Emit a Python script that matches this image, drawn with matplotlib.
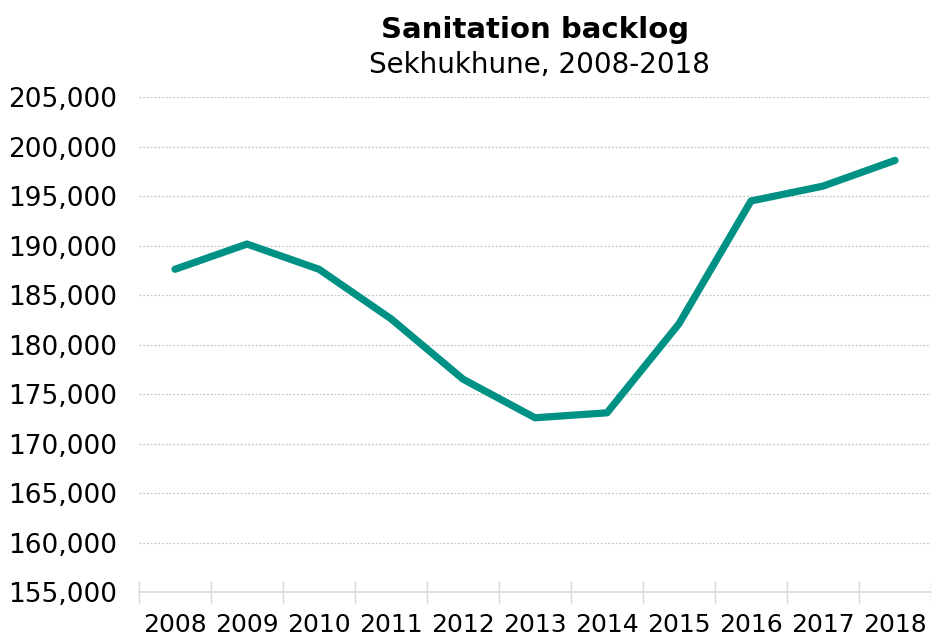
import numpy as np
import matplotlib.pyplot as plt
from matplotlib.ticker import FuncFormatter, MultipleLocator

# dane
years = ['2008', '2009', '2010', '2011', '2012', '2013',
         '2014', '2015', '2016', '2017', '2018']
backlog = [187600, 190150, 187600, 182600, 176500, 172600,
           173100, 182100, 194500, 196000, 198600]

line_color = '#009185'

fig = plt.figure(figsize=(9.31, 6.35), dpi=100)
ax = fig.add_axes([0.1493, 0.0677, 0.8507, 0.7795])

x = np.arange(len(years))
ax.plot(x, backlog, color=line_color, linewidth=5.2, solid_capstyle='round',
        solid_joinstyle='round', zorder=3)

ax.set_xlim(-0.5, len(years) - 0.5)
ax.set_ylim(155000, 205000)
ax.yaxis.set_major_locator(MultipleLocator(5000))
ax.yaxis.set_major_formatter(FuncFormatter(lambda v, p: f'{int(v):,}'))
ax.grid(axis='y', color='#c4c4c4', linestyle=(0, (1.5, 1.5)), linewidth=0.9)
ax.set_axisbelow(True)

# kreski osi X pomiędzy kategoriami (styl Excela)
ax.set_xticks(x)
ax.set_xticklabels(years)
ax.set_xticks(np.arange(len(years) + 1) - 0.5, minor=True)
ax.tick_params(axis='x', which='major', length=0, labelsize=18, pad=15)
ax.tick_params(axis='x', which='minor', direction='inout', length=16,
               color='#d9d9d9', width=1)
ax.tick_params(axis='y', length=0, labelsize=19, pad=16)

for side in ['top', 'right', 'left']:
    ax.spines[side].set_visible(False)
ax.spines['bottom'].set_color('#d9d9d9')
ax.spines['bottom'].set_linewidth(1.2)

fig.text(0.575, 0.953, 'Sanitation backlog', ha='center', va='center',
         fontsize=21, fontweight='bold')
fig.text(0.5795, 0.898, 'Sekhukhune, 2008-2018', ha='center', va='center',
         fontsize=20)

fig.savefig('out.png', dpi=100)
